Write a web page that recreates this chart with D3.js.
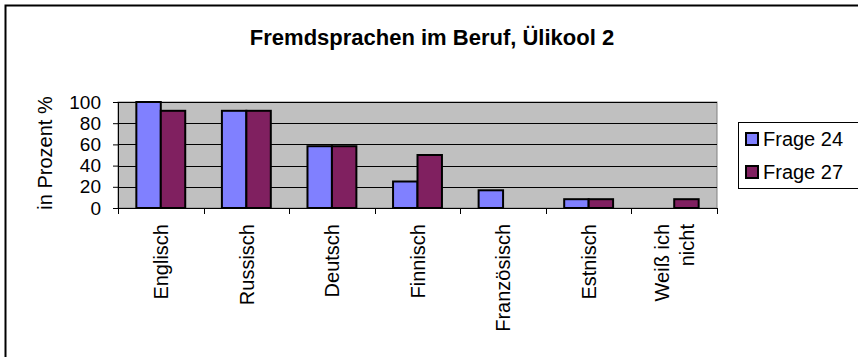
<!DOCTYPE html>
<html>
<head>
<meta charset="utf-8">
<script src="https://cdn.jsdelivr.net/npm/d3@7"></script>
<style>
  html, body { margin: 0; padding: 0; background: #fff; }
  svg { display: block; font-family: "Liberation Sans", Arial, sans-serif; }
</style>
</head>
<body>
<svg id="chart" width="858" height="357"></svg>
<script>
// Chart data
const categories = ["Englisch", "Russisch", "Deutsch", "Finnisch", "Französisch", "Estnisch", "Weiß ich nicht"];
const categoryLines = [["Englisch"], ["Russisch"], ["Deutsch"], ["Finnisch"], ["Französisch"], ["Estnisch"], ["Weiß ich", "nicht"]];
const seriesNames = ["Frage 24", "Frage 27"];
const frage24 = [100, 91.7, 58.3, 25, 16.7, 8.3, 0];
const frage27 = [91.7, 91.7, 58.3, 50, 0, 8.3, 8.3];
const yTicks = [0, 20, 40, 60, 80, 100];
const titleText = "Fremdsprachen im Beruf, Ülikool 2";
const yTitle = "in Prozent %";

const colors = ["#8080FF", "#802060"];
const seriesValues = [frage24, frage27];
const fontFamily = "'Liberation Sans', Arial, sans-serif";

const svg = d3.select("#chart");

// Outer chart frame
svg.append("rect")
  .attr("x", 5.5).attr("y", 5.5)
  .attr("width", 870).attr("height", 370)
  .attr("fill", "#fff")
  .attr("stroke", "#000").attr("stroke-width", 2);

const plot = { left: 118, right: 717, top: 102, bottom: 208 };

const x0 = d3.scaleBand().domain(categories).range([plot.left, plot.right]).padding(0);
const bw = x0.bandwidth();
const gap = bw * 0.75 / 3.5;
const x1 = d3.scaleBand().domain(seriesNames).range([gap, bw - gap]).padding(0);
const y = d3.scaleLinear().domain([0, 100]).range([plot.bottom, plot.top]);

// Plot area background
svg.append("rect")
  .attr("x", plot.left).attr("y", plot.top)
  .attr("width", plot.right - plot.left).attr("height", plot.bottom - plot.top)
  .attr("fill", "#C0C0C0")
  .attr("stroke", "#808080").attr("stroke-width", 1);

// Horizontal gridlines
svg.append("g").selectAll("line")
  .data(yTicks.filter(d => d > 0))
  .join("line")
  .attr("x1", plot.left).attr("x2", plot.right)
  .attr("y1", d => Math.round(y(d)) + 0.5).attr("y2", d => Math.round(y(d)) + 0.5)
  .attr("stroke", "#000").attr("stroke-width", 1);

// Bars
const rows = categories.map((c, i) => ({ c, vals: seriesNames.map((s, j) => ({ s, j, v: seriesValues[j][i] })) }));
svg.append("g").selectAll("g")
  .data(rows)
  .join("g")
  .attr("transform", d => `translate(${x0(d.c)},0)`)
  .selectAll("rect")
  .data(d => d.vals.filter(e => e.v > 0))
  .join("rect")
  .attr("x", d => x1(d.s))
  .attr("y", d => y(d.v))
  .attr("width", x1.bandwidth())
  .attr("height", d => y(0) - y(d.v))
  .attr("fill", d => colors[d.j])
  .attr("stroke", "#000").attr("stroke-width", 2);

// Y axis
const yAxis = svg.append("g")
  .attr("transform", `translate(${plot.left},0)`)
  .call(d3.axisLeft(y).tickValues(yTicks).tickSize(5).tickPadding(12));
yAxis.attr("font-family", fontFamily);
yAxis.select(".domain").attr("stroke", "#000");
yAxis.selectAll(".tick line").attr("stroke", "#000");
yAxis.selectAll(".tick text")
  .attr("font-size", 19).attr("fill", "#000");

// X axis line and ticks at category boundaries
svg.append("line")
  .attr("x1", plot.left).attr("x2", plot.right)
  .attr("y1", plot.bottom + 0.5).attr("y2", plot.bottom + 0.5)
  .attr("stroke", "#000");
const bounds = categories.map(c => x0(c)).concat([plot.right]);
svg.append("g").selectAll("line")
  .data(bounds)
  .join("line")
  .attr("x1", d => Math.round(d) + 0.5).attr("x2", d => Math.round(d) + 0.5)
  .attr("y1", plot.bottom).attr("y2", plot.bottom + 6)
  .attr("stroke", "#000");

// Category labels, rotated
const labelSize = 20;
const lineGap = 25;
categories.forEach((c, i) => {
  const lines = categoryLines[i];
  const cx = x0(c) + bw / 2;
  lines.forEach((ln, k) => {
    const off = (k - (lines.length - 1) / 2) * lineGap;
    svg.append("text")
      .attr("transform", `translate(${cx + off + labelSize * 0.36},224) rotate(-90)`)
      .attr("text-anchor", "end")
      .attr("font-size", labelSize)
      .attr("fill", "#000")
      .text(ln);
  });
});

// Y axis title
svg.append("text")
  .attr("transform", `translate(52,${(plot.top + plot.bottom) / 2 - 2}) rotate(-90)`)
  .attr("text-anchor", "middle")
  .attr("font-size", 20)
  .attr("fill", "#000")
  .text(yTitle);

// Title
svg.append("text")
  .attr("x", 432).attr("y", 45)
  .attr("text-anchor", "middle")
  .attr("font-size", 22).attr("font-weight", "bold")
  .attr("fill", "#000")
  .text(titleText);

// Legend
const legend = svg.append("g");
legend.append("rect")
  .attr("x", 738.5).attr("y", 122.5)
  .attr("width", 130).attr("height", 66)
  .attr("fill", "#fff").attr("stroke", "#000").attr("stroke-width", 1);
const legendRows = [139, 172];
seriesNames.forEach((s, j) => {
  legend.append("rect")
    .attr("x", 746).attr("y", legendRows[j] - 6)
    .attr("width", 12).attr("height", 12)
    .attr("fill", colors[j]).attr("stroke", "#000").attr("stroke-width", 2);
  legend.append("text")
    .attr("x", 763).attr("y", legendRows[j] + 7)
    .attr("font-size", 20).attr("fill", "#000")
    .text(s);
});
</script>
</body>
</html>
